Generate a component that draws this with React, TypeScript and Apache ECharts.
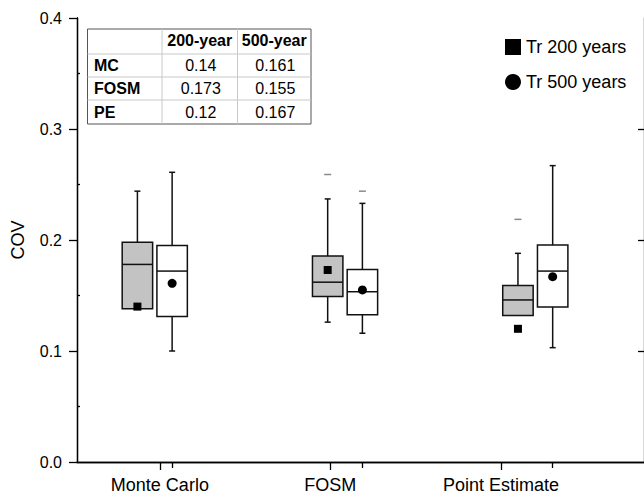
import React, { useEffect, useRef } from "react";
import * as echarts from "echarts";

// ---- data ----
const categories = ["Monte Carlo", "FOSM", "Point Estimate"];
const tableRows = ["MC", "FOSM", "PE"];
const tableCols = ["200-year", "500-year"];
// box stats: [min, q1, median, q3, max]
const box200 = [
  [0.138, 0.138, 0.178, 0.198, 0.244],
  [0.126, 0.149, 0.162, 0.1855, 0.237],
  [0.132, 0.132, 0.146, 0.159, 0.188],
];
const box500 = [
  [0.1, 0.131, 0.172, 0.195, 0.261],
  [0.116, 0.1327, 0.1534, 0.1735, 0.233],
  [0.103, 0.1396, 0.172, 0.1955, 0.267],
];
const mean200 = [0.14, 0.173, 0.12];
const mean500 = [0.161, 0.155, 0.167];
const outlier200 = [null, 0.259, 0.2186];
const outlier500 = [null, 0.244, null];
const yTicks = [0, 0.1, 0.2, 0.3, 0.4];

// ---- layout ----
const FONT = "'Liberation Sans', Arial, sans-serif";
const XMAX = 5.96;
const POS500 = [1, 3, 5];
const SHIFT200 = -0.365;
const LABEL_POS = [0.871, 2.662, 4.456];
const BOX_W = 0.32;

export default function App() {
  const ref = useRef<HTMLDivElement>(null);
  useEffect(() => {
    if (!ref.current) return;
    const chart = echarts.init(ref.current, null, { renderer: "svg" });

    const boxData = [
      ...box200.map((b, i) => [POS500[i] + SHIFT200, ...b, 0]),
      ...box500.map((b, i) => [POS500[i], ...b, 1]),
    ];

    const renderItem = (params: any, api: any) => {
      const x = api.value(0);
      const mn = api.value(1), q1 = api.value(2), md = api.value(3), q3 = api.value(4), mx = api.value(5);
      const kind = api.value(6);
      const w = api.size([BOX_W, 0])[0];
      const pMin = api.coord([x, mn]);
      const pQ1 = api.coord([x, q1]);
      const pMd = api.coord([x, md]);
      const pQ3 = api.coord([x, q3]);
      const pMax = api.coord([x, mx]);
      const cx = pMin[0];
      const ls = { stroke: "#111", lineWidth: 1.5 };
      const children: any[] = [];
      children.push({ type: "line", shape: { x1: cx, y1: pQ3[1], x2: cx, y2: pMax[1] }, style: ls });
      children.push({ type: "line", shape: { x1: cx - 3, y1: pMax[1], x2: cx + 3, y2: pMax[1] }, style: ls });
      if (mn < q1) {
        children.push({ type: "line", shape: { x1: cx, y1: pQ1[1], x2: cx, y2: pMin[1] }, style: ls });
        children.push({ type: "line", shape: { x1: cx - 3, y1: pMin[1], x2: cx + 3, y2: pMin[1] }, style: ls });
      }
      children.push({
        type: "rect",
        shape: { x: cx - w / 2, y: pQ3[1], width: w, height: pQ1[1] - pQ3[1] },
        style: { fill: kind === 0 ? "#c3c3c3" : "#ffffff", stroke: "#111", lineWidth: 1.5 },
      });
      children.push({ type: "line", shape: { x1: cx - w / 2, y1: pMd[1], x2: cx + w / 2, y2: pMd[1] }, style: ls });
      return { type: "group", children };
    };

    // table graphic
    const tL = 87.5, tT = 29;
    const colX = [87.5, 162, 237.5, 311];
    const rowY = [29, 54, 77, 100, 124];
    const g: any[] = [];
    g.push({ type: "rect", shape: { x: tL, y: tT, width: colX[3] - colX[0], height: rowY[4] - rowY[0] }, style: { fill: "#fff", stroke: "#555", lineWidth: 1 }, z: 10 });
    for (let i = 1; i < 3; i++) g.push({ type: "line", shape: { x1: colX[i], y1: rowY[0], x2: colX[i], y2: rowY[4] }, style: { stroke: "#c8c8c8", lineWidth: 1 }, z: 10 });
    for (let j = 1; j < 4; j++) g.push({ type: "line", shape: { x1: colX[0], y1: rowY[j], x2: colX[3], y2: rowY[j] }, style: { stroke: "#c8c8c8", lineWidth: 1 }, z: 10 });
    tableCols.forEach((c, i) => {
      g.push({ type: "text", x: (colX[i + 1] + colX[i + 2]) / 2, y: (rowY[0] + rowY[1]) / 2 - 1, style: { text: c, font: `bold 16px ${FONT}`, fill: "#000", align: "center", verticalAlign: "middle" }, z: 11 });
    });
    tableRows.forEach((r, j) => {
      const cy = (rowY[j + 1] + rowY[j + 2]) / 2;
      g.push({ type: "text", x: 94, y: cy, style: { text: r, font: `bold 16px ${FONT}`, fill: "#000", align: "left", verticalAlign: "middle" }, z: 11 });
      [mean200[j], mean500[j]].forEach((v, i) => {
        g.push({ type: "text", x: (colX[i + 1] + colX[i + 2]) / 2 + 1, y: cy, style: { text: String(v), font: `16px ${FONT}`, fill: "#000", align: "center", verticalAlign: "middle" }, z: 11 });
      });
    });

    const axisLine = { show: true, lineStyle: { color: "#000", width: 1.3 } };

    chart.setOption({
      animation: false,
      textStyle: { fontFamily: FONT },
      grid: { left: 77, top: 18, width: 568, height: 444 },
      legend: {
        orient: "vertical",
        left: 505,
        top: 38,
        padding: 0,
        itemWidth: 16,
        itemHeight: 16,
        itemGap: 17,
        data: ["Tr 200 years", "Tr 500 years"],
        textStyle: { fontSize: 18, color: "#000", fontFamily: FONT },
      },
      xAxis: [
        {
          type: "value",
          position: "bottom",
          min: 0,
          max: XMAX,
          axisLine,
          splitLine: { show: false },
          axisTick: { show: true, customValues: LABEL_POS, length: 8, inside: false, lineStyle: { color: "#000", width: 1.3 } },
          axisLabel: {
            customValues: LABEL_POS,
            fontSize: 18,
            color: "#000",
            margin: 14,
            fontFamily: FONT,
            formatter: (v: number) => {
              let best = 0;
              LABEL_POS.forEach((p, i) => { if (Math.abs(p - v) < Math.abs(LABEL_POS[best] - v)) best = i; });
              return categories[best];
            },
          },
        },
        {
          type: "value",
          position: "top",
          min: 0,
          max: XMAX,
          axisLine,
          splitLine: { show: false },
          axisTick: { show: true, customValues: POS500, length: 6, inside: true, lineStyle: { color: "#000", width: 1.3 } },
          axisLabel: { show: false },
        },
      ],
      yAxis: [
        {
          type: "value",
          position: "left",
          min: 0,
          max: 0.4,
          interval: 0.1,
          name: "COV",
          nameLocation: "middle",
          nameGap: 50,
          nameTextStyle: { fontSize: 18, color: "#000", fontFamily: FONT },
          axisLine,
          splitLine: { show: false },
          axisTick: { show: true, length: 8, inside: false, lineStyle: { color: "#000", width: 1.3 } },
          axisLabel: { fontSize: 16, color: "#000", margin: 15, fontFamily: FONT, formatter: (v: number) => v.toFixed(1) },
        },
        {
          type: "value",
          position: "left",
          min: 0,
          max: 0.4,
          axisLine,
          splitLine: { show: false },
          axisTick: { show: true, customValues: [0.05, 0.15, 0.25, 0.35], length: 3, inside: true, lineStyle: { color: "#000", width: 1.3 } },
          axisLabel: { show: false },
        },
        {
          type: "value",
          position: "right",
          min: 0,
          max: 0.4,
          axisLine,
          splitLine: { show: false },
          axisTick: { show: true, customValues: yTicks.slice(1, 4), length: 6, inside: true, lineStyle: { color: "#000", width: 1.3 } },
          axisLabel: { show: false },
        },
      ],
      series: [
        {
          type: "custom",
          name: "boxes",
          xAxisIndex: 0,
          yAxisIndex: 0,
          renderItem,
          encode: { x: 0, y: [1, 2, 3, 4, 5] },
          data: boxData,
          z: 2,
        },
        {
          type: "scatter",
          name: "outliers",
          xAxisIndex: 0,
          yAxisIndex: 0,
          symbol: "rect",
          symbolSize: [7, 1.5],
          itemStyle: { color: "#8a8a8a", opacity: 1 },
          data: [
            ...outlier200.map((v, i) => (v == null ? null : [POS500[i] + SHIFT200, v])).filter(Boolean),
            ...outlier500.map((v, i) => (v == null ? null : [POS500[i], v])).filter(Boolean),
          ],
          z: 3,
        },
        {
          type: "scatter",
          name: "Tr 200 years",
          xAxisIndex: 0,
          yAxisIndex: 0,
          symbol: "rect",
          symbolSize: 8,
          itemStyle: { color: "#000", opacity: 1 },
          data: mean200.map((v, i) => [POS500[i] + SHIFT200, v]),
          z: 4,
        },
        {
          type: "scatter",
          name: "Tr 500 years",
          xAxisIndex: 0,
          yAxisIndex: 0,
          symbol: "circle",
          symbolSize: 9,
          itemStyle: { color: "#000", opacity: 1 },
          data: mean500.map((v, i) => [POS500[i], v]),
          z: 4,
        },
      ],
      graphic: g,
    });
    return () => chart.dispose();
  }, []);
  return <div ref={ref} style={{ position: "absolute", left: 0, top: 0, width: 644, height: 497 }} />;
}
